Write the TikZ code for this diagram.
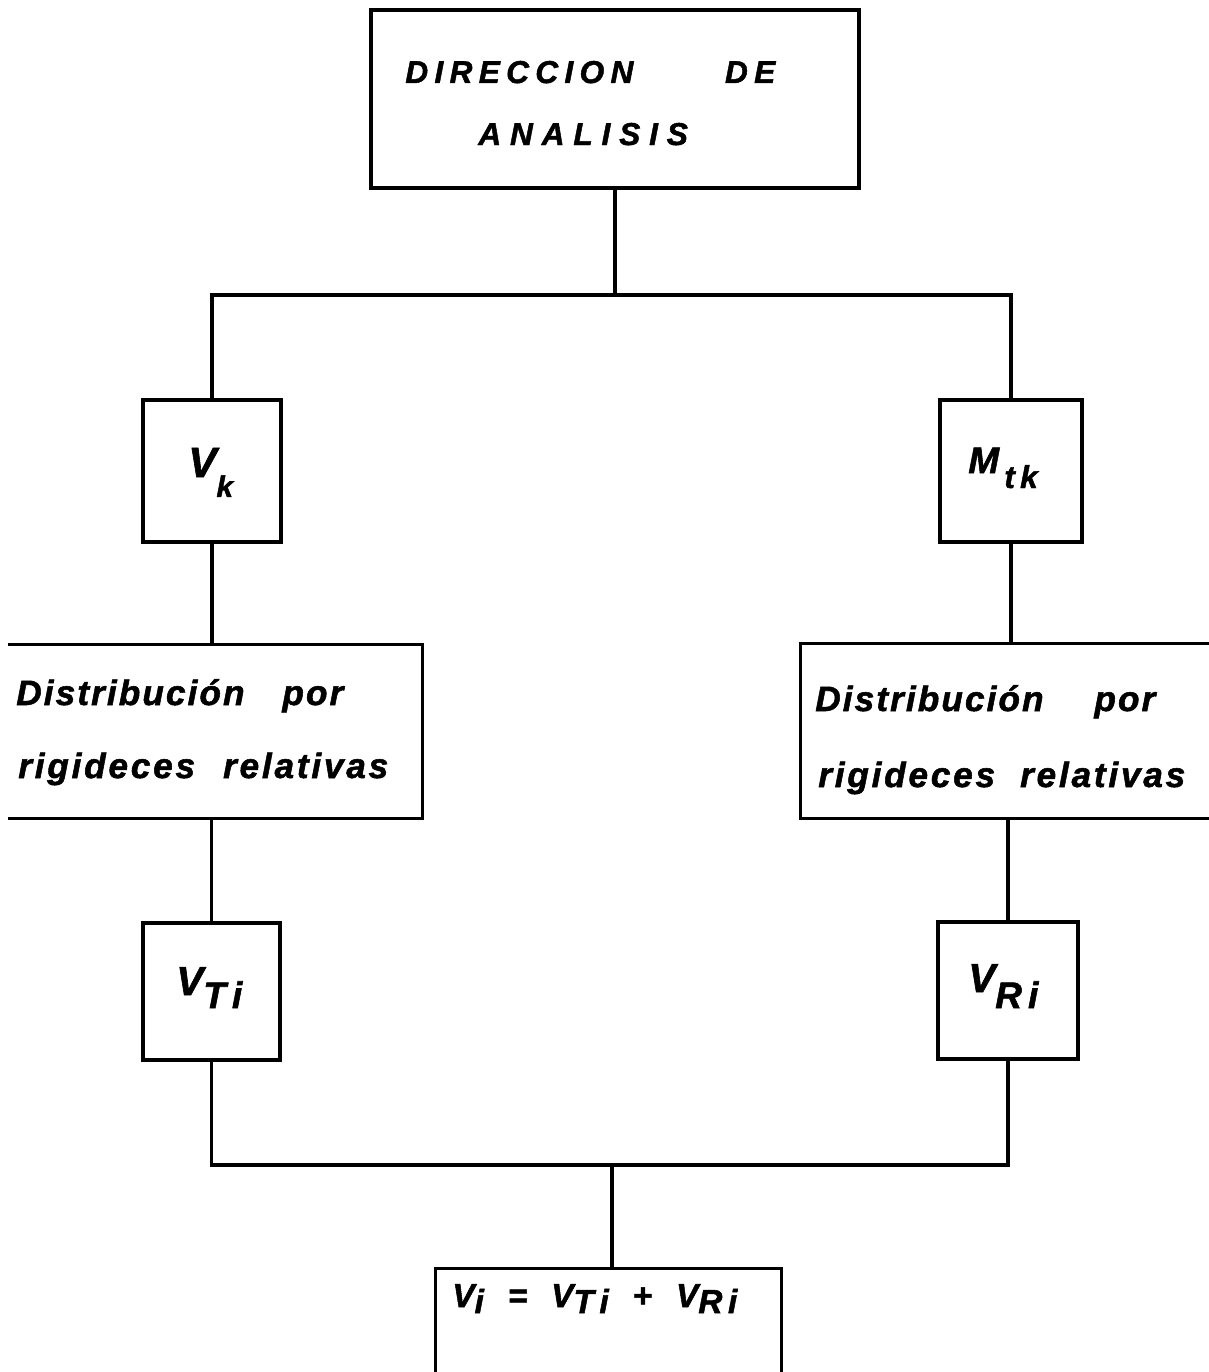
\documentclass[tikz,border=0pt]{standalone}
\usepackage{fontspec}
\setmainfont{Liberation Sans}[BoldItalicFeatures={FakeBold=1.5}]
\usetikzlibrary{fit}
\newcommand\lowr[2]{\raisebox{-#1}{#2}}
\newcommand\fs[1]{\fontsize{#1}{#1}\selectfont}
\tikzset{
  frame/.style={draw, line width=1.9pt, inner sep=0pt},
  openbox/.style={inner sep=0pt},
  conn/.style={line width=1.9pt},
  txt/.style={inner sep=0pt, anchor=base west},
  bi/.style={font=\bfseries\itshape\fs{#1}}
}
\begin{document}
\begin{tikzpicture}[x=0.02cm,y=-0.02cm]
\useasboundingbox (0,0) rectangle (1209,1372);
\fill[white] (0,0) rectangle (1209,1372);
% boxes
\node[frame, fit={(371,10)(859,188)}] (top) {};
\node[frame, fit={(143,400)(281,542)}] (vk) {};
\node[frame, fit={(940,400)(1082,542)}] (mtk) {};
\node[openbox, fit={(8,645)(422,818)}] (ld) {};
\node[openbox, fit={(801,644)(1209,818)}] (rd) {};
\node[frame, fit={(143,923)(280,1060)}] (vti) {};
\node[frame, fit={(938,922)(1078,1059)}] (vri) {};
\node[openbox, fit={(436,1269)(781,1372)}] (res) {};
\draw[conn] (ld.north west) -- (ld.north east) -- (ld.south east) -- (ld.south west);
\draw[conn] (rd.north east) -- (rd.north west) -- (rd.south west) -- (rd.south east);
\draw[conn] (res.south west) -- (res.north west) -- (res.north east) -- (res.south east);
% texts
\node[txt, bi=18pt] (t1) at (405,83) {\addfontfeature{LetterSpace=20}\makebox[7.4cm][l]{DIRECCION\hfill DE}};
\node[txt, bi=18pt] (t2) at (478,145) {\addfontfeature{LetterSpace=28}ANALISIS};
\node[txt, bi=20pt] (l1) at (16,705) {\addfontfeature{LetterSpace=6}\makebox[6.54cm][l]{Distribución\hfill por}};
\node[txt, bi=20pt] (l2) at (18,778) {\addfontfeature{LetterSpace=8}\makebox[7.4cm][l]{rigideces\hfill relativas}};
\node[txt, bi=20pt] (r1) at (815,711) {\addfontfeature{LetterSpace=6}\makebox[6.8cm][l]{Distribución\hfill por}};
\node[txt, bi=20pt] (r2) at (818,787) {\addfontfeature{LetterSpace=8}\makebox[7.34cm][l]{rigideces\hfill relativas}};
\node[txt, bi=24pt] (vkl) at (188,477) {V\lowr{0.4cm}{\fs{17pt}k}};
\node[txt, bi=21pt] (mtkl) at (968,473) {M\lowr{0.3cm}{\fs{18pt}\,t\,k}};
\node[txt, bi=23pt] (vtil) at (176,995) {V\lowr{0.26cm}{\fs{21pt}T\,i}};
\node[txt, bi=23pt] (vril) at (968,992) {V\lowr{0.32cm}{\fs{21pt}R\,i}};
\node[txt, bi=19pt] (resl) at (452,1307) {\makebox[5.7cm][l]{V\lowr{0.12cm}{i}\hfill=\hfill V\lowr{0.12cm}{T\,i}\hfill+\hfill V\lowr{0.12cm}{R\,i}}};
% connectors
\coordinate (jt) at (614,295);
\coordinate (jb) at (612,1165);
\draw[conn] (top.south) -- (top.south |- jt);
\draw[conn] (vk.north) |- (jt) -| (mtk.north);
\draw[conn] (vk.south) -- (vk.south |- ld.north);
\draw[conn] (mtk.south) -- (mtk.south |- rd.north);
\draw[conn] (vti.north |- ld.south) -- (vti.north);
\draw[conn] (vri.north |- rd.south) -- (vri.north);
\draw[conn] (vti.south) |- (jb) -| (vri.south);
\draw[conn] (jb) -- (jb |- res.north);
\end{tikzpicture}
\end{document}
